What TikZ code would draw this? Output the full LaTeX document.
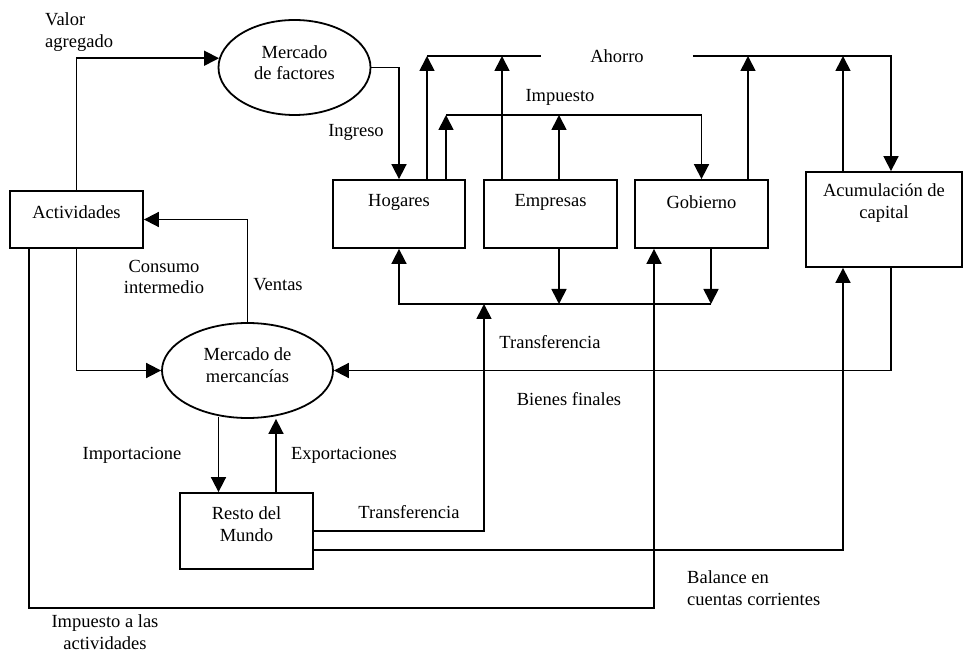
\documentclass[tikz,border=0pt]{standalone}
\usepackage{fontspec}
\setmainfont{Liberation Serif}
\usetikzlibrary{arrows.meta,shapes.geometric}
\tikzset{
  box/.style={draw,line width=1.8pt,inner sep=0pt},
  mkt/.style={draw,ellipse,line width=1.8pt,inner sep=0pt},
  lbl/.style={inner sep=0pt,align=center,font=\fontsize{18.5}{21.5}\selectfont},
  arr/.style={line width=1.7pt,-{Triangle[length=15pt,width=15pt]}},
  bus/.style={line width=1.7pt}
}
\begin{document}
\begin{tikzpicture}[x=1pt,y=-1pt]
  \useasboundingbox (0,0) rectangle (964,652);
  \node[box,minimum width=133pt,minimum height=57pt](act) at (76.5,219.5){};
  \node[box,minimum width=132pt,minimum height=68pt](hog) at (399,214){};
  \node[box,minimum width=133pt,minimum height=68pt](emp) at (550.5,214){};
  \node[box,minimum width=133pt,minimum height=68pt](gob) at (701.5,214){};
  \node[box,minimum width=156pt,minimum height=95pt](acu) at (884,219.5){};
  \node[box,minimum width=133pt,minimum height=76pt](res) at (246.5,531){};
  \node[mkt,minimum width=152pt,minimum height=95pt](mf) at (294.5,67.5){};
  \node[mkt,minimum width=171pt,minimum height=95pt](mm) at (247.5,370.5){};
  \node[lbl](actt) at (76.5,212){Actividades};
  \node[lbl](hogt) at (399,202){Hogares};
  \node[lbl](empt) at (550.5,202){Empresas};
  \node[lbl](gobt) at (701.5,202){Gobierno};
  \node[lbl](acut) at (884,203){Acumulación de\\capital};
  \node[lbl](rest) at (246.5,524){Resto del\\Mundo};
  \node[lbl](mft) at (294.5,62.5){Mercado\\de factores};
  \node[lbl](mmt) at (247.5,365){Mercado de\\mercancías};
  \node[lbl,inner xsep=49pt](ah) at (617,56){Ahorro};
  \node[lbl](imp) at (560,97){Impuesto};
  \node[lbl](ing) at (356,132){Ingreso};
  \node[lbl,anchor=west,align=left](va) at (45,32){Valor\\agregado};
  \node[lbl](ci) at (164,277){Consumo\\intermedio};
  \node[lbl](ven) at (278,285){Ventas};
  \node[lbl](tr1t) at (550,342){Transferencia};
  \node[lbl](bf) at (569,399){Bienes finales};
  \node[lbl](imt) at (132,455){Importacione};
  \node[lbl](ext) at (344,455){Exportaciones};
  \node[lbl](tr2t) at (409,512){Transferencia};
  \node[lbl,anchor=west,align=left](bal) at (687,588){Balance en\\cuentas corrientes};
  \node[lbl](iat) at (105,632){Impuesto a las\\actividades};
  \coordinate (ahL) at (427,56);
  \coordinate (ahR) at (891,56);
  \coordinate (imL) at (446,115);
  \coordinate (trR) at (711,304);
  \coordinate (trX) at (484,304);
  \draw[arr](act.north) |- (mf.173.5);
  \draw[arr](mf.east) -| (hog.north);
  \draw[bus](ahL) -- (ah.west);
  \draw[arr](ah.east) -- (ahR) -- (acu.north -| ahR);
  \draw[arr](hog.north -| ahL) -- (ahL);
  \draw[arr]([xshift=-48.5pt]emp.north) coordinate (a1) -- (a1 |- ah);
  \draw[arr]([xshift=46.5pt]gob.north) coordinate (a2) -- (a2 |- ah);
  \draw[arr]([xshift=-41pt]acu.north) coordinate (a3) -- (a3 |- ah);
  \draw[arr](imL) -| (gob.north);
  \draw[arr](hog.north -| imL) -- (imL);
  \draw[arr]([xshift=8.5pt]emp.north) coordinate (b1) -- (b1 |- imL);
  \draw[arr](trR) -- (hog.south |- trR) -- (hog.south);
  \draw[arr]([xshift=8.5pt]emp.south) coordinate (c1) -- (c1 |- trR);
  \draw[arr]([xshift=9.5pt]gob.south) -- (trR);
  \draw[arr](res.east) -| (trX);
  \draw[arr]([xshift=20pt]act.south west) -- ++(0,359) -| ([xshift=-47.5pt]gob.south);
  \draw[arr]([yshift=-19pt]res.east) -| ([xshift=-41pt]acu.south);
  \draw[arr]([xshift=7pt]acu.south) |- (mm.east);
  \draw[arr](mm.north) |- (act.east);
  \draw[arr](act.south) |- (mm.west);
  \draw[arr]([xshift=-28pt]res.north) coordinate (d1) ++(0,-75) -- (d1);
  \draw[arr]([xshift=29.5pt]res.north) coordinate (d2) -- (d2 |- mm.south);
\end{tikzpicture}
\end{document}
